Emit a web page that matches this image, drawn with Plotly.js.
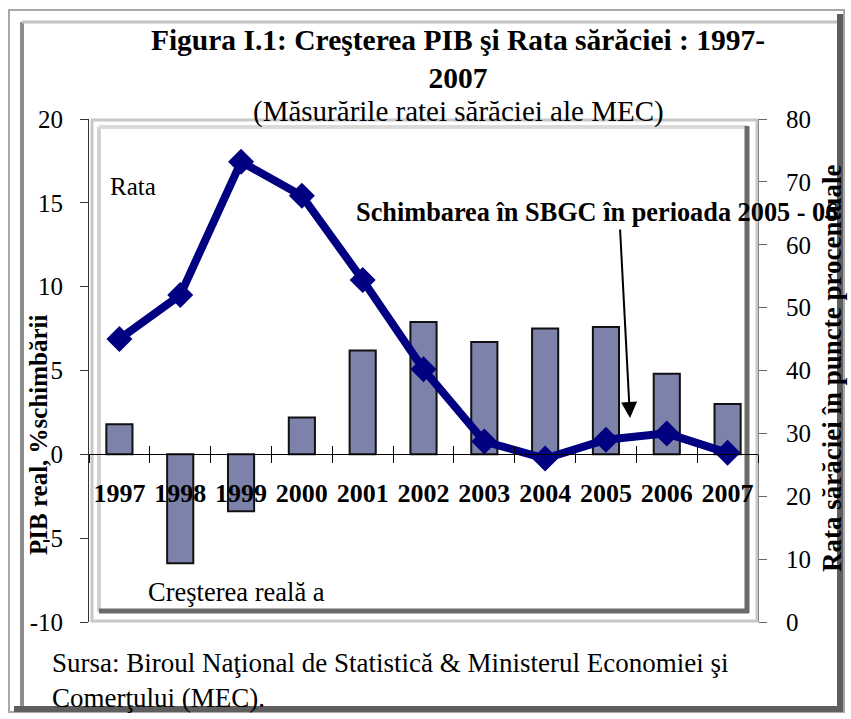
<!DOCTYPE html>
<html>
<head>
<meta charset="utf-8">
<script src="https://cdn.plot.ly/plotly-3.0.1.min.js"></script>
<style>
  html, body { margin: 0; padding: 0; background: #ffffff; }
  #chart { width: 851px; height: 719px; }
</style>
</head>
<body>
<div id="chart"></div>
<script>
// ---- data ----
const years = ['1997','1998','1999','2000','2001','2002','2003','2004','2005','2006','2007'];
const gdpGrowth = [1.8, -6.5, -3.4, 2.2, 6.2, 7.9, 6.7, 7.5, 7.6, 4.8, 3.0];      // PIB real, % schimbării (left axis)
const povertyRate = [45.0, 52.0, 73.2, 67.8, 54.4, 40.2, 28.7, 26.0, 29.0, 30.0, 26.9]; // Rata sărăciei (right axis)
const leftTicks = [-10, -5, 0, 5, 10, 15, 20];
const rightTicks = [0, 10, 20, 30, 40, 50, 60, 70, 80];

const titleText = '<b>Figura I.1: Creşterea PIB şi Rata sărăciei : 1997-<br>2007</b>';
const subtitleText = '(Măsurările ratei sărăciei ale MEC)';
const leftTitle = '<b>PIB real, %schimbării</b>';
const rightTitle = '<b>Rata sărăciei în puncte procentuale</b>';
const noteRata = 'Rata';
const noteGdp = 'Creşterea reală a';
const noteSbgc = '<b>Schimbarea în SBGC în perioada 2005 - 06</b>';
const sourceText = 'Sursa: Biroul Naţional de Statistică & Ministerul Economiei şi<br>Comerţului (MEC).';

// ---- geometry helpers (pixel -> paper) ----
const W = 851, H = 719, ML = 89, MR = 93, MT = 119, MB = 97;
const PW = W - ML - MR, PH = H - MT - MB;
const px = x => (x - ML) / PW;
const py = y => (H - MB - y) / PH;

const serif = 'Liberation Serif, Times New Roman, serif';

const traces = [
  {
    type: 'bar',
    x: years,
    y: gdpGrowth,
    xaxis: 'x',
    yaxis: 'y',
    width: 0.43,
    marker: { color: '#7c82aa', line: { color: '#111111', width: 2 } },
    name: 'Creşterea reală a PIB',
    hoverinfo: 'x+y'
  },
  {
    type: 'scatter',
    mode: 'lines+markers',
    x: years,
    y: povertyRate,
    xaxis: 'x2',
    yaxis: 'y2',
    line: { color: '#000080', width: 8 },
    marker: { symbol: 'diamond', size: 20, color: '#000080' },
    name: 'Rata sărăciei',
    hoverinfo: 'x+y'
  }
];

function line(x0, y0, x1, y1, color, width) {
  return { type: 'line', xref: 'paper', yref: 'paper', x0: px(x0), y0: py(y0), x1: px(x1), y1: py(y1),
           line: { color: color, width: width }, layer: 'below' };
}
function rect(x0, y0, x1, y1, color, width) {
  return { type: 'rect', xref: 'paper', yref: 'paper', x0: px(x0), y0: py(y0), x1: px(x1), y1: py(y1),
           line: { color: color, width: width }, fillcolor: 'rgba(0,0,0,0)', layer: 'below' };
}

const shapes = [
  // outer chart frame
  rect(9, 10, 844, 712, '#a8a8a8', 2),
  line(22, 22, 22, 706, '#8c8c8c', 4),
  line(22, 22, 838, 22, '#c4c4c4', 3),
  line(840, 14, 840, 712, '#5e5e5e', 6),
  line(14, 709, 843, 709, '#5e5e5e', 6),
  // plot-area bevel frame
  rect(92, 120, 757, 621, '#c8c8c8', 3),
  line(99, 127, 99, 612, '#d2d2d2', 4),
  line(99, 127, 747, 127, '#dadada', 4),
  line(747, 126, 747, 613, '#6a6a6a', 5),
  line(99, 611, 749, 611, '#6a6a6a', 5)
];

const annotations = [
  { text: subtitleText, xref: 'paper', yref: 'paper', x: px(458), y: py(111), xanchor: 'center', yanchor: 'middle',
    showarrow: false, font: { family: serif, size: 29, color: '#000' } },
  { text: leftTitle, xref: 'paper', yref: 'paper', x: px(38), y: py(435), xanchor: 'center', yanchor: 'middle',
    textangle: -90, showarrow: false, font: { family: serif, size: 25, color: '#000' } },
  { text: noteRata, xref: 'paper', yref: 'paper', x: px(108), y: py(187), xanchor: 'left', yanchor: 'middle',
    showarrow: false, font: { family: serif, size: 25, color: '#000' } },
  { text: noteGdp, xref: 'paper', yref: 'paper', x: px(146), y: py(592), xanchor: 'left', yanchor: 'middle',
    showarrow: false, font: { family: serif, size: 26.5, color: '#000' } },
  { text: noteSbgc, xref: 'paper', yref: 'paper', x: px(354), y: py(212), xanchor: 'left', yanchor: 'middle',
    showarrow: false, font: { family: serif, size: 26.3, color: '#000' } },
  { text: '', xref: 'paper', yref: 'paper', x: px(630), y: py(418), ax: -10, ay: -190, axref: 'pixel', ayref: 'pixel',
    showarrow: true, arrowhead: 2, arrowsize: 1.6, arrowwidth: 2, arrowcolor: '#000' },
  { text: rightTitle, xref: 'paper', yref: 'paper', x: px(832), y: py(369), xanchor: 'center', yanchor: 'middle',
    textangle: -90, showarrow: false, font: { family: serif, size: 27, color: '#000' } },
  { text: sourceText, xref: 'paper', yref: 'paper', x: px(50), y: py(680), xanchor: 'left', yanchor: 'middle',
    align: 'left', showarrow: false, font: { family: serif, size: 27, color: '#000' } }
];

const layout = {
  width: W, height: H,
  margin: { l: ML, r: MR, t: MT, b: MB, pad: 0 },
  paper_bgcolor: '#ffffff',
  plot_bgcolor: 'rgba(0,0,0,0)',
  showlegend: false,
  title: {
    text: titleText,
    x: 458 / W, xanchor: 'center',
    y: 1 - 50 / H, yanchor: 'top',
    font: { family: serif, size: 29.5, color: '#000' }
  },
  xaxis: {
    type: 'category', categoryorder: 'array', categoryarray: years,
    range: [-0.5, 10.5], domain: [0, 1],
    anchor: 'free', position: 1 / 3,
    showline: true, linecolor: '#000', linewidth: 1,
    ticks: 'outside', tickson: 'boundaries', ticklen: 8, tickcolor: '#000', tickwidth: 1,
    tickangle: 0, ticklabelstandoff: 15,
    tickfont: { family: serif, size: 26, color: '#000', weight: 'bold' },
    showgrid: false, zeroline: false, fixedrange: true
  },
  xaxis2: {
    type: 'category', categoryorder: 'array', categoryarray: years,
    range: [-0.5, 10.5], overlaying: 'x',
    anchor: 'free', position: 1 / 3,
    showline: false,
    ticks: 'inside', tickson: 'boundaries', ticklen: 8, tickcolor: '#000', tickwidth: 1,
    showticklabels: false, showgrid: false, zeroline: false, fixedrange: true
  },
  yaxis: {
    range: [-10, 20], tickvals: leftTicks, ticktext: leftTicks.map(String),
    showline: true, linecolor: '#333', linewidth: 1,
    ticks: 'outside', ticklen: 8, tickcolor: '#333',
    ticklabelstandoff: 12,
    tickfont: { family: serif, size: 25, color: '#000' },
    showgrid: false, zeroline: false, fixedrange: true
  },
  yaxis2: {
    range: [0, 80], tickvals: rightTicks, ticktext: rightTicks.map(String),
    overlaying: 'y', side: 'right', anchor: 'x2',
    showline: true, linecolor: '#888', linewidth: 1,
    ticks: 'outside', ticklen: 8, tickcolor: '#666',
    ticklabelstandoff: 14,
    tickfont: { family: serif, size: 25, color: '#000' },
    showgrid: false, zeroline: false, fixedrange: true
  },
  shapes: shapes,
  annotations: annotations
};

Plotly.newPlot('chart', traces, layout, { displayModeBar: false, staticPlot: true });
</script>
</body>
</html>
